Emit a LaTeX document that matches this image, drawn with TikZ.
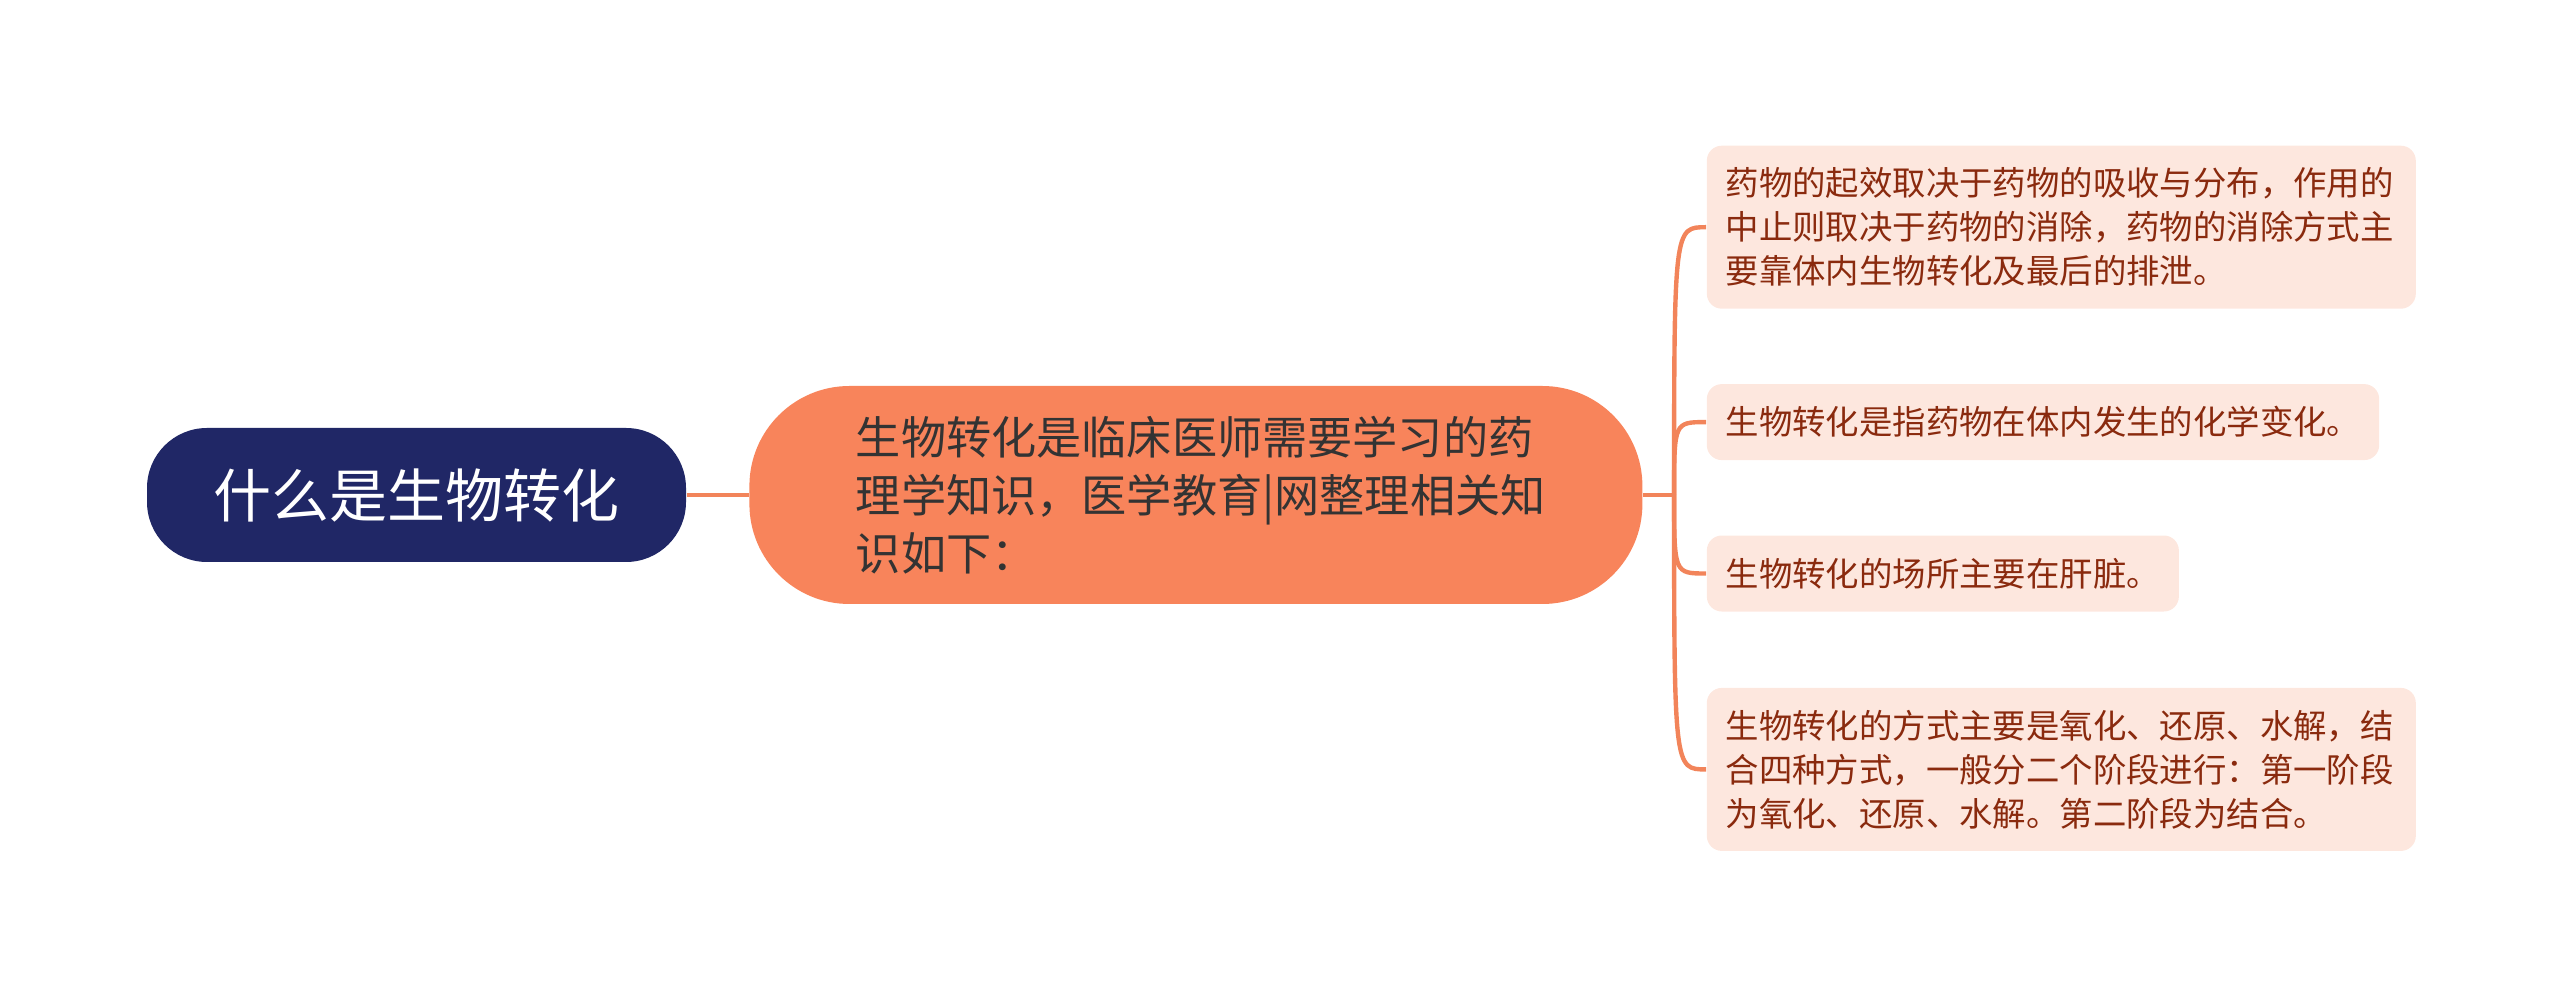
\documentclass[tikz,border=0pt]{standalone}
\usepackage{fontspec}
\setmainfont{Noto Sans CJK SC}
\usepackage{tikz}
\usetikzlibrary{positioning}
\usepackage{xcolor}
\definecolor{navy}{HTML}{202766}
\definecolor{salmon}{HTML}{F8845B}
\definecolor{linkc}{HTML}{F2845A}
\definecolor{leafbg}{HTML}{FDE7DE}
\definecolor{leaftext}{HTML}{8A2A0E}
\definecolor{maintext}{HTML}{333333}

\begin{document}
\begin{tikzpicture}[
    box/.style={align=left, inner sep=0pt},
    topic/.style={box, fill=navy, text=white, minimum width=5.39cm, minimum height=1.34cm, rounded corners=0.6cm, font=\fontsize{16.5pt}{20pt}\selectfont},
    main/.style={box, fill=salmon, text=maintext, minimum width=8.93cm, minimum height=2.18cm, rounded corners=1cm, text width=6.8cm, font=\fontsize{12.85pt}{16.5pt}\selectfont},
    leaf/.style={box, fill=leafbg, text=leaftext, inner xsep=0.19cm, rounded corners=0.15cm, font=\fontsize{9.5pt}{12.5pt}\selectfont},
    link/.style={draw=linkc, line width=1.25pt}
  ]
  \useasboundingbox (0,0) rectangle (25.6,9.9);

  % Main components
  \node[topic] (root) at (4.165,4.95) {什么是生物转化};
  \node[main, right=0.62cm of root] (center) {生物转化是临床医师需要学习的药\\理学知识，医学教育|网整理相关知\\识如下：};

  % Leaves
  \node[leaf, anchor=north west, text width=6.71cm, minimum height=1.63cm] (c1) at ([xshift=0.63cm, yshift=3.5cm]center.east) {药物的起效取决于药物的吸收与分布，作用的\\中止则取决于药物的消除，药物的消除方式主\\要靠体内生物转化及最后的排泄。};
  \node[leaf, below=0.74cm of c1.south west, anchor=north west, minimum height=0.76cm] (c2) {生物转化是指药物在体内发生的化学变化。};
  \node[leaf, below=0.74cm of c2.south west, anchor=north west, minimum height=0.76cm] (c3) {生物转化的场所主要在肝脏。};
  \node[leaf, below=0.75cm of c3.south west, anchor=north west, text width=6.71cm, minimum height=1.63cm] (c4) {生物转化的方式主要是氧化、还原、水解，结\\合四种方式，一般分二个阶段进行：第一阶段\\为氧化、还原、水解。第二阶段为结合。};

  % Connections
  \coordinate (fork) at ([xshift=0.31cm]center.east);
  \draw[link] (root.east) -- (center.west);
  \draw[link] (center.east) -- (fork);
  \foreach \leafname in {c1,c2,c3,c4}
    \draw[link] (fork) .. controls (fork |- \leafname.west) and (fork |- \leafname.west) .. (\leafname.west);

\end{tikzpicture}
\end{document}
